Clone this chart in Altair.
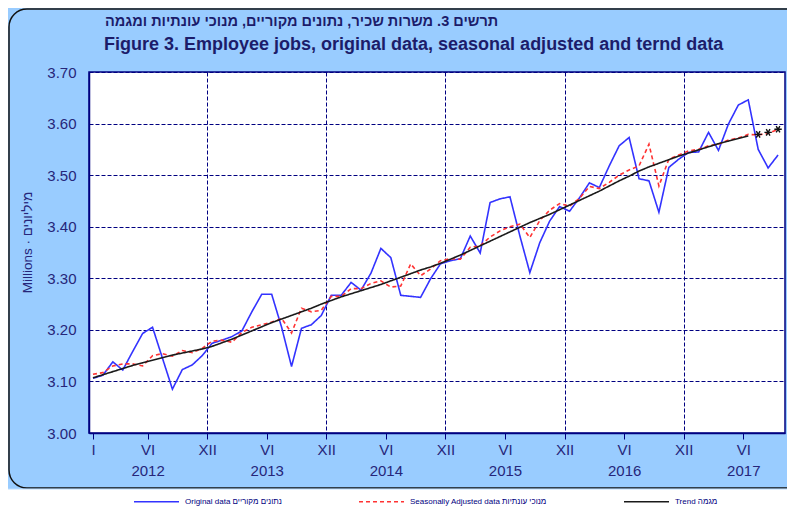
import altair as alt
import pandas as pd

# ---------------- data ----------------
months = list(range(70))  # 0 = Jan 2012 ... 69 = Oct 2017

original = [
    3.106, 3.112, 3.138, 3.122, 3.158, 3.193, 3.205, 3.145, 3.085, 3.123,
    3.132, 3.150, 3.174, 3.180, 3.187, 3.198, 3.235, 3.269, 3.269, 3.205,
    3.129, 3.203, 3.210, 3.228, 3.267, 3.267, 3.292, 3.277, 3.310, 3.358,
    3.340, 3.267, 3.265, 3.263, 3.299, 3.328, 3.334, 3.338, 3.382, 3.349,
    3.447, 3.454, 3.458, 3.382, 3.311, 3.369, 3.411, 3.439, 3.430, 3.456,
    3.485, 3.476, 3.518, 3.557, 3.573, 3.493, 3.489, 3.428, 3.515, 3.531,
    3.544, 3.545, 3.583, 3.548, 3.599, 3.636, 3.646, 3.550, 3.514, 3.539,
]

seasonal = [
    3.114, 3.117, 3.130, 3.134, 3.134, 3.130, 3.150, 3.154, 3.149, 3.160,
    3.156, 3.164, 3.178, 3.180, 3.176, 3.195, 3.205, 3.210, 3.215, 3.222,
    3.194, 3.242, 3.235, 3.238, 3.265, 3.265, 3.280, 3.280, 3.290, 3.295,
    3.283, 3.285, 3.328, 3.305, 3.318, 3.334, 3.338, 3.337, 3.360, 3.363,
    3.380, 3.392, 3.400, 3.405, 3.379, 3.412, 3.432, 3.445, 3.440, 3.455,
    3.478, 3.474, 3.486, 3.500, 3.510, 3.518, 3.560, 3.479, 3.531, 3.539,
    3.547, 3.550, 3.557, 3.560, 3.568, 3.572, 3.579, 3.578, 3.581, 3.589,
]

trend = [
    3.107, 3.113, 3.119, 3.125, 3.131, 3.136, 3.141, 3.146, 3.151, 3.155,
    3.159, 3.163, 3.168, 3.175, 3.182, 3.190, 3.198, 3.206, 3.214, 3.221,
    3.228, 3.235, 3.242, 3.250, 3.257, 3.264, 3.270, 3.276, 3.282, 3.288,
    3.295, 3.302, 3.309, 3.316, 3.322, 3.329, 3.337, 3.345, 3.354, 3.363,
    3.372, 3.381, 3.390, 3.399, 3.408, 3.416, 3.424, 3.433, 3.442, 3.451,
    3.460, 3.469, 3.479, 3.489, 3.498, 3.508, 3.516, 3.523, 3.530, 3.537,
    3.543, 3.549, 3.555, 3.561, 3.566, 3.571, 3.576,
]

# preliminary trend estimates (marked with asterisks), months 67-69
trend_prelim_months = [67, 68, 69]
trend_prelim = [3.579, 3.583, 3.589]

series_names = [
    "Original data נתונים מקוריים",
    "Seasonally Adjusted data מנוכי עונתיות",
    "Trend מגמה",
]
series_colors = ["#3333FF", "#FF3333", "#1A1A1A"]
series_dash = [[1, 0], [4, 3], [1, 0]]

x_tick_values = [0, 5.5, 11.5, 17.5, 23.5, 29.5, 35.5, 41.5, 47.5, 53.5, 59.5, 65.5]
x_tick_months = ["I", "VI", "XII", "VI", "XII", "VI", "XII", "VI", "XII", "VI", "XII", "VI"]
x_tick_years = ["", "2012", "", "2013", "", "2014", "", "2015", "", "2016", "", "2017"]

y_tick_values = [3.0, 3.1, 3.2, 3.3, 3.4, 3.5, 3.6, 3.7]

title_he = "תרשים 3. משרות שכיר, נתונים מקוריים, מנוכי עונתיות ומגמה"
title_en = "Figure 3. Employee jobs, original data, seasonal adjusted and ternd data"
y_title = "Millions  ·  מיליונים"

# ---------------- tables ----------------
rows = []
for m, v in zip(months, original):
    rows.append({"month": m, "value": v, "series": series_names[0]})
for m, v in zip(months, seasonal):
    rows.append({"month": m, "value": v, "series": series_names[1]})
for m, v in zip(months[: len(trend)], trend):
    rows.append({"month": m, "value": v, "series": series_names[2]})
df = pd.DataFrame(rows)
df_star = pd.DataFrame({"month": trend_prelim_months, "value": trend_prelim})

# label expression built from the tick lists
parts = []
for v, mo, yr in zip(x_tick_values, x_tick_months, x_tick_years):
    lab = f"['{mo}','{yr}']" if yr else f"'{mo}'"
    parts.append(f"datum.value == {v} ? {lab} : ")
label_expr = "".join(parts) + "''"

NAVY = "#000080"
TXT = "#26267A"
TITLE_C = "#1C1C6A"
SANS = "Liberation Sans, Arial, sans-serif"

x_scale = alt.Scale(domain=[-0.4, 69.7], nice=False, zero=False)
y_scale = alt.Scale(domain=[3.0, 3.7], nice=False, zero=False)

x_axis = alt.Axis(
    values=x_tick_values,
    labelExpr=label_expr,
    labelFlush=False,
    labelOverlap=False,
    grid=True,
    gridColor={"condition": {"test": "(datum.value + 0.5) % 12 == 0", "value": NAVY},
               "value": "transparent"},
    gridDash=[4, 2],
    gridWidth=1,
    domainColor=NAVY,
    domainWidth=1.5,
    tickColor=NAVY,
    tickSize=6,
    tickWidth=1,
    labelFont=SANS,
    labelFontSize=15,
    labelColor=TXT,
    labelPadding=3,
    labelLineHeight=21,
    labelBaseline="top",
    title=None,
)

y_axis = alt.Axis(
    values=y_tick_values,
    format=".2f",
    grid=True,
    gridColor=NAVY,
    gridDash=[4, 2],
    gridWidth=1,
    domainColor=NAVY,
    domainWidth=1.5,
    tickSize=0,
    labelPadding=13,
    labelFont=SANS,
    labelFontSize=15,
    labelColor=TXT,
    title=y_title,
    titleFont=SANS,
    titleFontSize=13.5,
    titleFontWeight="normal",
    titleColor=TXT,
    titleX=-62,
    titleY=170,
    titleAlign="center",
    titleBaseline="middle",
)

legend = alt.Legend(
    orient="none",
    legendX=44,
    legendY=406,
    direction="horizontal",
    title=None,
    symbolType="stroke",
    symbolSize=2025,
    symbolStrokeWidth=1.6,
    labelFont=SANS,
    labelFontSize=8,
    labelColor=NAVY,
    labelOffset=5,
    columnPadding=73,
)

one = pd.DataFrame({"k": [0]})

frame = alt.Chart(one).mark_rect(
    fill="transparent", stroke="#111111", strokeWidth=1.5, cornerRadius=18
).encode(
    x=alt.value(-80), x2=alt.value(730), y=alt.value(-63), y2=alt.value(416)
)

strip = alt.Chart(one).mark_rect(
    fill="white", stroke="#BBDDFF", strokeWidth=1
).encode(
    x=alt.value(-82), x2=alt.value(730), y=alt.value(417), y2=alt.value(440)
)

title1 = alt.Chart(one).mark_text(
    align="left", baseline="middle", font=SANS, fontSize=14.5, fontWeight="bold",
    color=TITLE_C,
).encode(
    x=alt.value(16), y=alt.value(-50), text=alt.value("\u202b" + title_he + "\u202c")
)

title2 = alt.Chart(one).mark_text(
    align="left", baseline="middle", font=SANS, fontSize=18, fontWeight="bold",
    color=TITLE_C,
).encode(
    x=alt.value(15), y=alt.value(-27), text=alt.value(title_en)
)

lines = alt.Chart(df).mark_line(strokeWidth=1.6).encode(
    x=alt.X("month:Q", scale=x_scale, axis=x_axis),
    y=alt.Y("value:Q", scale=y_scale, axis=y_axis),
    color=alt.Color("series:N", scale=alt.Scale(domain=series_names, range=series_colors),
                    legend=legend),
    strokeDash=alt.StrokeDash("series:N", scale=alt.Scale(domain=series_names, range=series_dash),
                              legend=legend),
    order="month:Q",
)

asterisk = "M-1,0L1,0M-0.5,-0.866L0.5,0.866M-0.5,0.866L0.5,-0.866"
stars = alt.Chart(df_star).mark_point(
    shape=asterisk, filled=False, stroke="#111111", strokeWidth=1.4, size=55, opacity=1
).encode(
    x=alt.X("month:Q", scale=x_scale),
    y=alt.Y("value:Q", scale=y_scale),
)

chart = alt.layer(frame, strip, title1, title2, lines, stars).properties(
    width=696,
    height=361,
    autosize=alt.AutoSizeParams(type="none"),
    padding={"left": 81, "top": 64, "right": 2, "bottom": 74},
).configure(
    background="#99CCFF",
).configure_view(
    fill="white", stroke=NAVY, strokeWidth=1.5
)

chart.save("out.html", embed_options={"renderer": "svg", "actions": False})
